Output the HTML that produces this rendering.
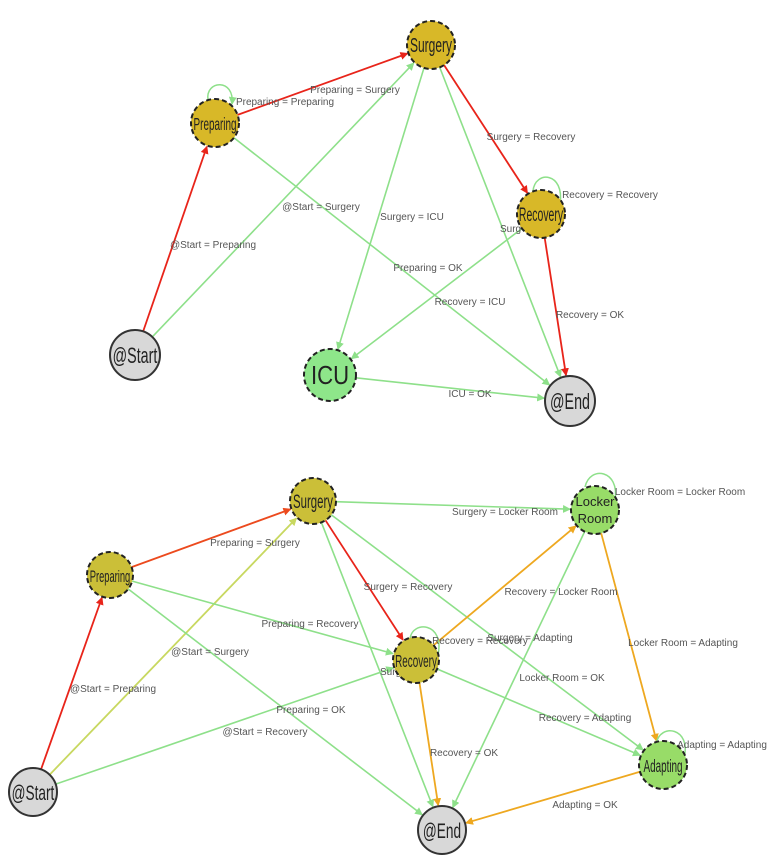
<!DOCTYPE html>
<html><head><meta charset="utf-8"><style>
body{margin:0;background:#fff;width:779px;height:865px;overflow:hidden}
svg{display:block}
.l{font-family:"Liberation Sans",sans-serif;font-size:10px;fill:#555}
.n{font-family:"Liberation Sans",sans-serif;fill:#222}
</style></head><body>
<svg id="s" width="779" height="865" viewBox="0 0 779 865" xmlns="http://www.w3.org/2000/svg">
<defs>
<marker id="m-r" markerWidth="8" markerHeight="8" refX="7" refY="4" orient="auto" markerUnits="userSpaceOnUse"><path d="M0,0 L8,4 L0,8 z" fill="#e8241a"/></marker>
<marker id="m-g" markerWidth="8" markerHeight="8" refX="7" refY="4" orient="auto" markerUnits="userSpaceOnUse"><path d="M0,0 L8,4 L0,8 z" fill="#8ee08a"/></marker>
<marker id="m-o" markerWidth="8" markerHeight="8" refX="7" refY="4" orient="auto" markerUnits="userSpaceOnUse"><path d="M0,0 L8,4 L0,8 z" fill="#eea820"/></marker>
<marker id="m-y" markerWidth="8" markerHeight="8" refX="7" refY="4" orient="auto" markerUnits="userSpaceOnUse"><path d="M0,0 L8,4 L0,8 z" fill="#c8d860"/></marker>
<marker id="m-ro" markerWidth="8" markerHeight="8" refX="7" refY="4" orient="auto" markerUnits="userSpaceOnUse"><path d="M0,0 L8,4 L0,8 z" fill="#ec4a1e"/></marker>
</defs>
<g id="edges"></g>
<g id="loops" fill="none" stroke="#8ee08a" stroke-width="1.5">
<path d="M208,100 C205,80 235,78 232,104" marker-end="url(#m-g)"/>
<path d="M533,191 C535,170 565,172 560,204" />
<path d="M585,487 C590,465 620,470 615,500"/>
<path d="M410,639 C412,620 445,622 438,655"/>
<path d="M656,744 C660,722 692,728 684,758"/>
</g>
<g id="labels" class="l">
<text x="213" y="248" text-anchor="middle">@Start = Preparing</text>
<text x="321" y="210" text-anchor="middle">@Start = Surgery</text>
<text x="355" y="93" text-anchor="middle">Preparing = Surgery</text>
<text x="285" y="105" text-anchor="middle">Preparing = Preparing</text>
<text x="428" y="271" text-anchor="middle">Preparing = OK</text>
<text x="412" y="220" text-anchor="middle">Surgery = ICU</text>
<text x="531" y="140" text-anchor="middle">Surgery = Recovery</text>
<text x="610" y="198" text-anchor="middle">Recovery = Recovery</text>
<text x="470" y="305" text-anchor="middle">Recovery = ICU</text>
<text x="590" y="318" text-anchor="middle">Recovery = OK</text>
<text x="470" y="397" text-anchor="middle">ICU = OK</text>
<text x="500" y="232">Surg</text>
<text x="113" y="692" text-anchor="middle">@Start = Preparing</text>
<text x="210" y="655" text-anchor="middle">@Start = Surgery</text>
<text x="265" y="735" text-anchor="middle">@Start = Recovery</text>
<text x="255" y="546" text-anchor="middle">Preparing = Surgery</text>
<text x="310" y="627" text-anchor="middle">Preparing = Recovery</text>
<text x="311" y="713" text-anchor="middle">Preparing = OK</text>
<text x="505" y="515" text-anchor="middle">Surgery = Locker Room</text>
<text x="408" y="590" text-anchor="middle">Surgery = Recovery</text>
<text x="380" y="675">Surg</text>
<text x="530" y="641" text-anchor="middle">Surgery = Adapting</text>
<text x="480" y="644" text-anchor="middle">Recovery = Recovery</text>
<text x="561" y="595" text-anchor="middle">Recovery = Locker Room</text>
<text x="464" y="756" text-anchor="middle">Recovery = OK</text>
<text x="585" y="721" text-anchor="middle">Recovery = Adapting</text>
<text x="680" y="495" text-anchor="middle">Locker Room = Locker Room</text>
<text x="562" y="681" text-anchor="middle">Locker Room = OK</text>
<text x="683" y="646" text-anchor="middle">Locker Room = Adapting</text>
<text x="722" y="748" text-anchor="middle">Adapting = Adapting</text>
<text x="585" y="808" text-anchor="middle">Adapting = OK</text>
</g>
<g id="nodes" stroke-width="2">
<circle cx="431" cy="45" r="24" fill="#d8b828" stroke="#222" stroke-dasharray="5,3"/>
<circle cx="215" cy="123" r="24" fill="#d8b828" stroke="#222" stroke-dasharray="5,3"/>
<circle cx="541" cy="214" r="24" fill="#d8b828" stroke="#222" stroke-dasharray="5,3"/>
<circle cx="135" cy="355" r="25" fill="#d8d8d8" stroke="#333"/>
<circle cx="330" cy="375" r="26" fill="#8ee68a" stroke="#222" stroke-dasharray="5,3"/>
<circle cx="570" cy="401" r="25" fill="#d8d8d8" stroke="#333"/>
<circle cx="313" cy="501" r="23" fill="#cbbf38" stroke="#222" stroke-dasharray="5,3"/>
<circle cx="110" cy="575" r="23" fill="#cbbf38" stroke="#222" stroke-dasharray="5,3"/>
<circle cx="416" cy="660" r="23" fill="#cbbf38" stroke="#222" stroke-dasharray="5,3"/>
<circle cx="595" cy="510" r="24" fill="#98dc68" stroke="#222" stroke-dasharray="5,3"/>
<circle cx="663" cy="765" r="24" fill="#98dc68" stroke="#222" stroke-dasharray="5,3"/>
<circle cx="33" cy="792" r="24" fill="#d8d8d8" stroke="#333"/>
<circle cx="442" cy="830" r="24" fill="#d8d8d8" stroke="#333"/>
</g>
<g class="n" text-anchor="middle">
<text transform="translate(431,52) scale(0.6,1)" font-size="20">Surgery</text>
<text transform="translate(215,130) scale(0.55,1)" font-size="18">Preparing</text>
<text transform="translate(541,221) scale(0.55,1)" font-size="19">Recovery</text>
<text transform="translate(135,363) scale(0.65,1)" font-size="22">@Start</text>
<text transform="translate(330,384) scale(0.85,1)" font-size="26">ICU</text>
<text transform="translate(570,409) scale(0.65,1)" font-size="22">@End</text>
<text transform="translate(313,508) scale(0.6,1)" font-size="19">Surgery</text>
<text transform="translate(110,582) scale(0.55,1)" font-size="17">Preparing</text>
<text transform="translate(416,667) scale(0.55,1)" font-size="18">Recovery</text>
<text x="595" y="506" font-size="13">Locker</text>
<text x="595" y="523" font-size="13">Room</text>
<text transform="translate(663,772) scale(0.55,1)" font-size="18">Adapting</text>
<text transform="translate(33,800) scale(0.65,1)" font-size="21">@Start</text>
<text transform="translate(442,838) scale(0.65,1)" font-size="21">@End</text>
</g>
</svg>
<script>
var N={Su:[431,45,24],Pr:[215,123,24],Re:[541,214,24],St:[135,355,25],IC:[330,375,26],En:[570,401,25],
su:[313,501,23],pr:[110,575,23],re:[416,660,23],lo:[595,510,24],ad:[663,765,24],st:[33,792,24],en:[442,830,24]};
var C={r:"#e8241a",g:"#8ee08a",o:"#eea820",y:"#c8d860",ro:"#ec4a1e"};
var E=[["St","Pr","r"],["St","Su","g"],["Pr","Su","r"],["Pr","En","g"],["Su","IC","g"],["Su","En","g"],["Su","Re","r"],["Re","IC","g"],["Re","En","r"],["IC","En","g"],
["st","pr","r"],["st","su","y"],["st","re","g"],["pr","su","ro"],["pr","re","g"],["pr","en","g"],["su","lo","g"],["su","re","r"],["su","en","g"],["su","ad","g"],["re","lo","o"],["re","en","o"],["re","ad","g"],["lo","en","g"],["lo","ad","o"],["ad","en","o"]];
var g=document.getElementById("edges"),ns="http://www.w3.org/2000/svg";
E.forEach(function(e){var a=N[e[0]],b=N[e[1]],dx=b[0]-a[0],dy=b[1]-a[1],d=Math.hypot(dx,dy),ux=dx/d,uy=dy/d;
var l=document.createElementNS(ns,"line");l.setAttribute("x1",a[0]+ux*a[2]);l.setAttribute("y1",a[1]+uy*a[2]);
l.setAttribute("x2",b[0]-ux*(b[2]+1));l.setAttribute("y2",b[1]-uy*(b[2]+1));l.setAttribute("stroke",C[e[2]]);
l.setAttribute("stroke-width",e[2]=="g"?1.6:1.8);l.setAttribute("marker-end","url(#m-"+e[2]+")");g.appendChild(l);});
</script>
</body></html>
